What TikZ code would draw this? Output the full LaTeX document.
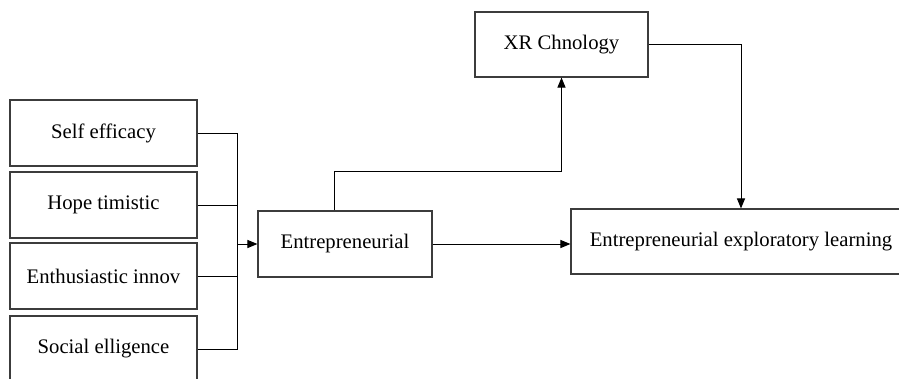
\documentclass[tikz,border=0pt]{standalone}
\usepackage{fontspec}
\setmainfont{Liberation Serif}
\usepackage{tikz}
\usetikzlibrary{positioning, arrows.meta}
\definecolor{boxLine}{RGB}{60,60,60}

\tikzset{
  factorbox/.style={draw=boxLine, line width=1.1pt, minimum width=187pt, minimum height=66pt, inner sep=0pt, font=\fontsize{20.7}{25}\selectfont},
  flowbox/.style={draw=boxLine, line width=1.1pt, minimum height=66pt, inner sep=0pt, font=\fontsize{20.7}{25}\selectfont},
  link/.style={line width=1pt, black},
  arr/.style={link, -{Triangle[length=10pt, width=8pt]}}
}

\begin{document}
\begin{tikzpicture}[x=1pt, y=-1pt]
  \useasboundingbox (0,0) rectangle (899,378);
  \clip (0,0) rectangle (899,378);
  % predictors on the left
  \node[factorbox] (self) at (103.5,133) {Self efficacy};
  \node[factorbox] (hope) at (103.5,205) {Hope timistic};
  \node[factorbox] (enth) at (103.5,276) {Enthusiastic innov};
  \node[factorbox] (social) at (103.5,349) {Social elligence};
  % main chain
  \node[flowbox, minimum width=174pt] (entr) at (345,244) {Entrepreneurial};
  \node[flowbox, minimum width=173pt, minimum height=65pt] (xr) at (561.5,44.5) {XR Chnology};
  \node[flowbox, minimum width=340pt, minimum height=65pt] (eel) at (741,241.5) {Entrepreneurial exploratory learning};

  \coordinate (jn) at ([xshift=-20pt]entr.west);
  \draw[link] (self.east) -| (jn);
  \draw[link] (social.east) -| (jn);
  \draw[link] (hope.east) -- (hope.east -| jn);
  \draw[link] (enth.east) -- (enth.east -| jn);
  \draw[arr] (jn) -- (entr.west);

  \draw[arr] ([xshift=-11pt]entr.north) -- ++(0,-39) -| (xr.south);
  \draw[arr] (xr.east) -| (eel.north);
  \draw[arr] (entr.east) -- (entr.east -| eel.west);
\end{tikzpicture}
\end{document}
